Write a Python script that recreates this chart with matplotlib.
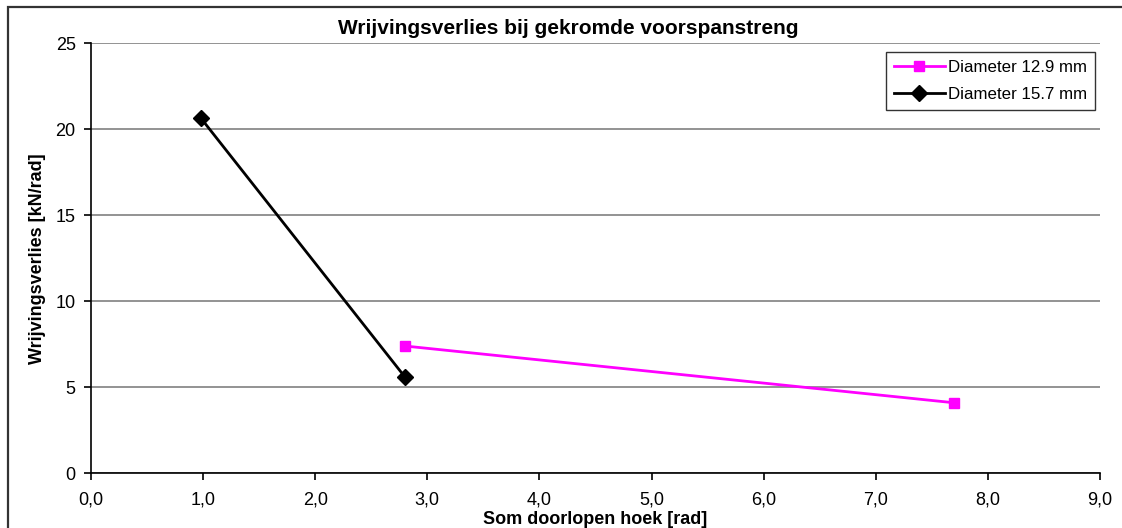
import matplotlib
matplotlib.use("Agg")
import matplotlib.pyplot as plt
from matplotlib.patches import Rectangle
from matplotlib.ticker import FuncFormatter, MultipleLocator

plt.rcParams['font.family'] = ['Liberation Sans', 'DejaVu Sans']

# Data
hoek_129 = [2.8, 7.7]
verlies_129 = [7.4, 4.1]
hoek_157 = [0.98, 2.8]
verlies_157 = [20.65, 5.6]
labels = ["Diameter 12.9 mm", "Diameter 15.7 mm"]

fig = plt.figure(figsize=(11.22, 5.28), dpi=100)
ax = fig.add_axes([91/1122, 1-473.3/528, (1100-91)/1122, (473.3-43.3)/528])

# Outer chart frame
fig.patches.append(Rectangle((8/1122, -0.05), 1.2, 1 - 7/528 + 0.05,
                             transform=fig.transFigure, fill=False,
                             edgecolor='#333333', linewidth=1.6))

ax.plot(hoek_129, verlies_129, color='#ff00ff', linewidth=2, marker='s',
        markersize=6.5, label=labels[0], zorder=3)
ax.plot(hoek_157, verlies_157, color='black', linewidth=2, marker='D',
        markersize=8, label=labels[1], zorder=3)

ax.set_xlim(0, 9)
ax.set_ylim(0, 25)
ax.xaxis.set_major_locator(MultipleLocator(1))
ax.yaxis.set_major_locator(MultipleLocator(5))
ax.xaxis.set_major_formatter(FuncFormatter(lambda v, p: f"{v:.1f}".replace('.', ',')))
ax.yaxis.set_major_formatter(FuncFormatter(lambda v, p: f"{v:.0f}"))

ax.grid(axis='y', color='#808080', linewidth=1.2)
ax.set_axisbelow(True)
for s in ('top', 'right'):
    ax.spines[s].set_visible(False)
for s in ('left', 'bottom'):
    ax.spines[s].set_linewidth(1.2)
    ax.spines[s].set_color('black')
ax.tick_params(axis='both', direction='out', length=5, width=1.2,
               labelsize=13, colors='black', pad=6)
ax.tick_params(axis='x', pad=8)

fig.text(595/1122, 1 - 520/528, "Som doorlopen hoek [rad]",
         ha='center', va='center', fontsize=13, fontweight='bold')
ax.set_ylabel("Wrijvingsverlies [kN/rad]", fontsize=13, fontweight='bold', labelpad=7)
fig.text(568/1122, 1 - 28/528, "Wrijvingsverlies bij gekromde voorspanstreng",
         ha='center', va='center', fontsize=15, fontweight='bold')

leg = ax.legend(loc='upper right', bbox_to_anchor=(1095/1122, 1 - 52/528),
                bbox_transform=fig.transFigure, frameon=True, fancybox=False,
                edgecolor='black', fontsize=12.2, handlelength=3.0,
                handletextpad=0.2, borderpad=0.45, labelspacing=0.75,
                borderaxespad=0)
leg.get_frame().set_linewidth(1.0)

fig.savefig("out.png", dpi=100)
